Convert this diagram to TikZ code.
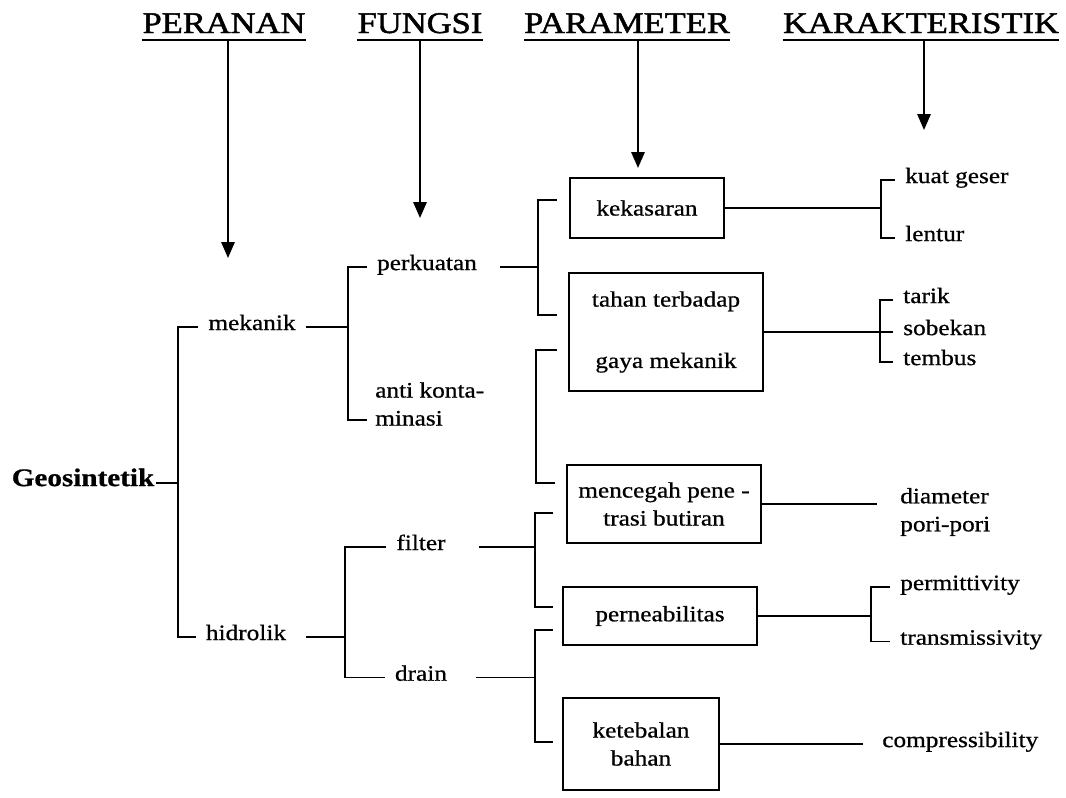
\documentclass[tikz,border=0pt]{standalone}
\usepackage{fontspec}
\setmainfont{Liberation Serif}[FakeStretch=1.15, FakeBold=0.7]
\newfontfamily\judulfont{Liberation Serif}[FakeStretch=1.15, FakeBold=1.6]
\usetikzlibrary{positioning,arrows.meta}

\begin{document}
\begin{tikzpicture}[x=0.75pt, y=-0.75pt, >={Triangle[width=10pt,length=12pt]},
    judul/.style={inner xsep=0pt, inner ysep=5pt, anchor=base, font=\judulfont\fontsize{22.5}{27}\selectfont},
    lbl/.style={inner xsep=7.5pt, inner ysep=1pt, font=\fontsize{16.5}{21}\selectfont},
    kotak/.style={draw, line width=1.4pt, inner sep=0pt, align=center, font=\fontsize{16.5}{21}\selectfont},
    garis/.style={line width=1.1pt},
    panah/.style={line width=1.5pt, ->}]

        \useasboundingbox (0,0) rectangle (1066,797);

        %Headers
        \node   (peranan) [judul] at (224,33) {PERANAN};
        \node   (fungsi) [judul] at (420,33) {FUNGSI};
        \node   (parameter) [judul] at (627,33) {PARAMETER};
        \node   (karakteristik) [judul] at (921,33) {KARAKTERISTIK};

        %Nodes
        \node   (geo) [lbl, inner xsep=1.5pt, anchor=mid, font=\fontsize{19}{23}\selectfont\bfseries] at (83,483) {Geosintetik};
        \node   (mekanik) [lbl, anchor=mid] at (252,327) {mekanik};
        \node   (hidrolik) [lbl, anchor=mid] at (246,637) {hidrolik};
        \node   (perkuatan) [lbl, anchor=mid] at (427,267) {perkuatan};
        \node   (anti) [lbl, anchor=west, align=left] at (365,404) {anti konta-\\ minasi};
        \node   (filter) [lbl, anchor=mid] at (421,547) {filter};
        \node   (drain) [lbl, below=98pt of filter.mid, anchor=mid] {drain};

        \node   (kekasaran) [kotak, minimum width=116pt, minimum height=45pt] at (647,208) {kekasaran};
        \node   (tahan) [kotak, minimum width=145pt, minimum height=88pt] at (666,332) {tahan terbadap\\[25pt]gaya mekanik};
        \node   (mencegah) [kotak, minimum width=145pt, minimum height=59pt] at (664,504) {mencegah pene -\\trasi butiran};
        \node   (perneabilitas) [kotak, minimum width=145pt, minimum height=43.5pt] at (660,616) {perneabilitas};
        \node   (ketebalan) [kotak, minimum width=117pt, minimum height=69pt] at (641,744) {ketebalan\\bahan};

        \node   (kuatgeser) [lbl, anchor=mid west] at (895,180) {kuat geser};
        \node   (lentur) [lbl, below=43.5pt of kuatgeser.mid west, anchor=mid west] {lentur};
        \node   (tarik) [lbl, anchor=mid west] at (893,300) {tarik};
        \node   (sobekan) [lbl, below=24pt of tarik.mid west, anchor=mid west] {sobekan};
        \node   (tembus) [lbl, below=22.5pt of sobekan.mid west, anchor=mid west] {tembus};
        \node   (diameter) [lbl, anchor=west, align=left] at (890,512) {diameter\\pori-pori};
        \node   (permittivity) [lbl, anchor=mid west] at (890,587) {permittivity};
        \node   (transmissivity) [lbl, below=41pt of permittivity.mid west, anchor=mid west] {transmissivity};
        \node   (compress) [lbl, anchor=mid west] at (872,744) {compressibility};

        %Points
        \coordinate (tipPeranan) at (228,258);
        \coordinate (tipFungsi) at (420,218);
        \coordinate (tipParameter) at (638,168);
        \coordinate (tipKarakteristik) at (924,130);

        \coordinate (jGeo) at (178,483);
        \coordinate (jMek) at (348,327);
        \coordinate (jHid) at (345,637);
        \coordinate (jPerk) at (538,267);
        \coordinate (jAnti) at (536,416);
        \coordinate (jFil) at (535,547);
        \coordinate (jDrn) at (535,678);
        \coordinate (jKek) at (881,208);
        \coordinate (jTah) at (880,332);
        \coordinate (jPerm) at (871,616);

        \coordinate (tAnti) at (367,420);
        \coordinate (tKek) at (557,200);
        \coordinate (tTah) at (557,315);
        \coordinate (tGaya) at (557,350);
        \coordinate (tCeg) at (555,483);
        \coordinate (tFilA) at (553,513);
        \coordinate (tFilB) at (553,607);
        \coordinate (tDrnA) at (553,630);
        \coordinate (tDrnB) at (553,742);
        \coordinate (eCeg) at (877,504);
        \coordinate (eTeb) at (863,744);

        %Underlines and arrows
        \draw[garis] (peranan.south west) -- (peranan.south east);
        \draw[garis] (fungsi.south west) -- (fungsi.south east);
        \draw[garis] (parameter.south west) -- (parameter.south east);
        \draw[garis] (karakteristik.south west) -- (karakteristik.south east);

        \draw[panah] (tipPeranan |- peranan.south) -- (tipPeranan);
        \draw[panah] (tipFungsi |- fungsi.south) -- (tipFungsi);
        \draw[panah] (tipParameter |- parameter.south) -- (tipParameter);
        \draw[panah] (tipKarakteristik |- karakteristik.south) -- (tipKarakteristik);

        %Lines
        \draw[garis] (geo.mid east) -- (geo.mid east -| jGeo);
        \draw[garis] (mekanik.mid west) -| (jGeo) |- (hidrolik.mid west);

        \draw[garis] (mekanik.mid east) -- (mekanik.mid east -| jMek);
        \draw[garis] (perkuatan.mid west) -| (jMek) |- (tAnti);
        \draw[garis, shorten <=7.5pt] (hidrolik.mid east) -- (hidrolik.mid east -| jHid);
        \draw[garis] (filter.mid west) -| (jHid) |- (drain.mid west);

        \draw[garis, shorten <=10pt] (perkuatan.mid east) -- (perkuatan.mid east -| jPerk);
        \draw[garis] (tKek) -| (jPerk) |- (tTah);
        \draw[garis] (tGaya) -| (jAnti) |- (tCeg);
        \draw[garis, shorten <=17pt] (filter.mid east) -- (filter.mid east -| jFil);
        \draw[garis] (tFilA) -| (jFil) |- (tFilB);
        \draw[garis, shorten <=14pt] (drain.mid east) -- (drain.mid east -| jDrn);
        \draw[garis] (tDrnA) -| (jDrn) |- (tDrnB);

        \draw[garis] (kekasaran.east) -- (jKek);
        \draw[garis] (kuatgeser.mid west) -| (jKek) |- (lentur.mid west);
        \draw[garis] (tahan.east) -- (jTah);
        \draw[garis] (tarik.mid west) -| (jTah) |- (tembus.mid west);
        \draw[garis] (jTah) -- (sobekan.mid west);
        \draw[garis] (mencegah.east) -- (eCeg);
        \draw[garis] (perneabilitas.east) -- (jPerm);
        \draw[garis] (permittivity.mid west) -| (jPerm) |- (transmissivity.mid west);
        \draw[garis] (ketebalan.east) -- (eTeb);

    \end{tikzpicture}
\end{document}
